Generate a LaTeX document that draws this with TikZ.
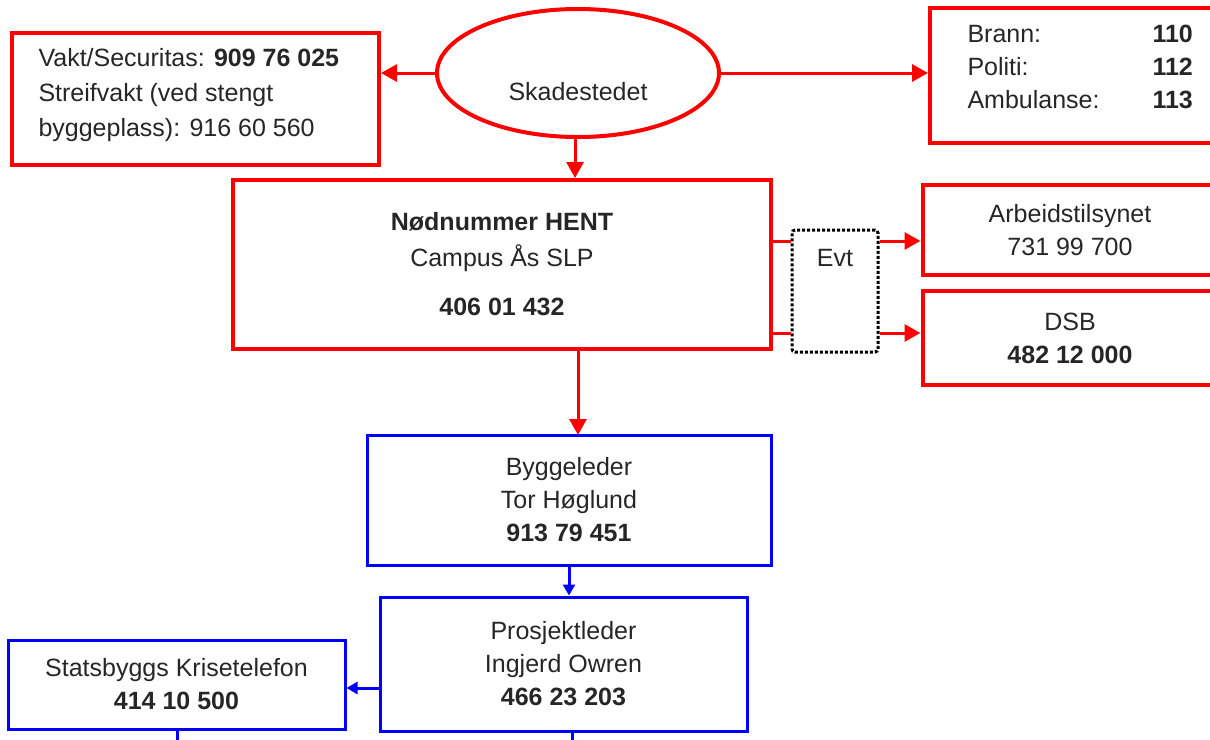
\documentclass[tikz,border=0pt]{standalone}
\usepackage{fontspec}
\setmainfont{Liberation Sans}
\usetikzlibrary{arrows.meta}
\definecolor{rd}{RGB}{255,0,0}
\definecolor{bl}{RGB}{0,0,255}
\begin{document}
\begin{tikzpicture}[x=1pt,y=-1pt,
  txt/.style={font=\fontsize{25}{33}\selectfont, text=black!85},
  rbox/.style={draw=rd, line width=4pt, rectangle, inner sep=0pt, txt, align=center},
  bbox/.style={draw=bl, line width=3pt, rectangle, inner sep=0pt, txt, align=center},
  rarr/.style={draw=rd, line width=3pt, -{Triangle[length=16pt,width=17pt]}},
  bline/.style={draw=bl, line width=3pt},
  barr/.style={draw=bl, line width=3pt, -{Triangle[length=11pt,width=12pt]}},
]
\useasboundingbox (0,0) rectangle (1210,739);
\clip (0,0) rectangle (1210,739);
% left box
\node[rbox, minimum width=367pt, minimum height=132pt] (vakt) at (195.5,99) {};
\node[txt, anchor=west, align=left, font=\fontsize{25}{35}\selectfont] (vakttxt) at (35,95) {Vakt/Securitas: \textbf{909 76 025}\\Streifvakt (ved stengt\\byggeplass): 916 60 560};
% ellipse
\draw[rd, line width=4pt] (578,73) ellipse [x radius=141, y radius=64];
\coordinate (ellW) at (437,73);
\coordinate (ellE) at (719,73);
\coordinate (ellS) at (575,137);
\node[txt] (skad) at (578,92) {Skadestedet};
% right box
\node[rbox, minimum width=290pt, minimum height=135pt] (nod) at (1075,75.5) {};
\node[txt, anchor=west] (nodtxt) at (964,69) {\renewcommand{\arraystretch}{1.0}\begin{tabular}{@{}p{185pt}@{}r@{}}Brann: & \textbf{110}\\ Politi: & \textbf{112}\\ Ambulanse: & \textbf{113}\end{tabular}};
% HENT
\node[rbox, minimum width=538pt, minimum height=169pt] (hent) at (502,264.5) {\textbf{Nødnummer HENT}\\[3pt]Campus Ås SLP\\[16pt]\textbf{406 01 432}};
% Evt
\node[draw=black, line width=3pt, dotted, rounded corners=3pt, minimum width=86pt, minimum height=122pt, inner sep=0pt] (evt) at (835,291) {};
\node[txt] (evttxt) at (835,258) {Evt};
% Arbeidstilsynet, DSB
\node[rbox, minimum width=295pt, minimum height=90pt] (arb) at (1070,230) {Arbeidstilsynet\\731 99 700};
\node[rbox, minimum width=295pt, minimum height=94pt] (dsb) at (1070,338) {DSB\\\textbf{482 12 000}};
% blue boxes
\node[bbox, minimum width=404pt, minimum height=130pt] (bygg) at (569,500) {Byggeleder\\Tor Høglund\\\textbf{913 79 451}};
\node[bbox, minimum width=367pt, minimum height=134pt] (pros) at (563.5,664) {Prosjektleder\\Ingjerd Owren\\\textbf{466 23 203}};
\node[bbox, minimum width=337pt, minimum height=89pt] (stat) at (176.5,684.5) {Statsbyggs Krisetelefon\\\textbf{414 10 500}};
% connectors
\draw[rarr] (ellW) -- (ellW -| vakt.east);
\draw[rarr] (ellE) -- (ellE -| nod.west);
\draw[rarr] (ellS) -- (ellS |- hent.north);
\draw[draw=rd, line width=3pt] (hent.east |- 0,241) -- (evt.west |- 0,241);
\draw[draw=rd, line width=3pt] (hent.east |- 0,333) -- (evt.west |- 0,333);
\draw[rarr] (evt.east |- 0,241) -- (arb.west |- 0,241);
\draw[rarr] (evt.east |- 0,333) -- (dsb.west |- 0,333);
\draw[rarr] (578,349) -- (578,435);
\draw[barr] (bygg.south) -- (bygg.south |- pros.north);
\draw[barr] (pros.west |- 0,688) -- (stat.east |- 0,688);
\coordinate (sb) at (177,745);
\coordinate (pb) at (572,745);
\draw[bline] (stat.south -| sb) -- (sb);
\draw[bline] (pros.south -| pb) -- (pb);
\end{tikzpicture}
\end{document}
